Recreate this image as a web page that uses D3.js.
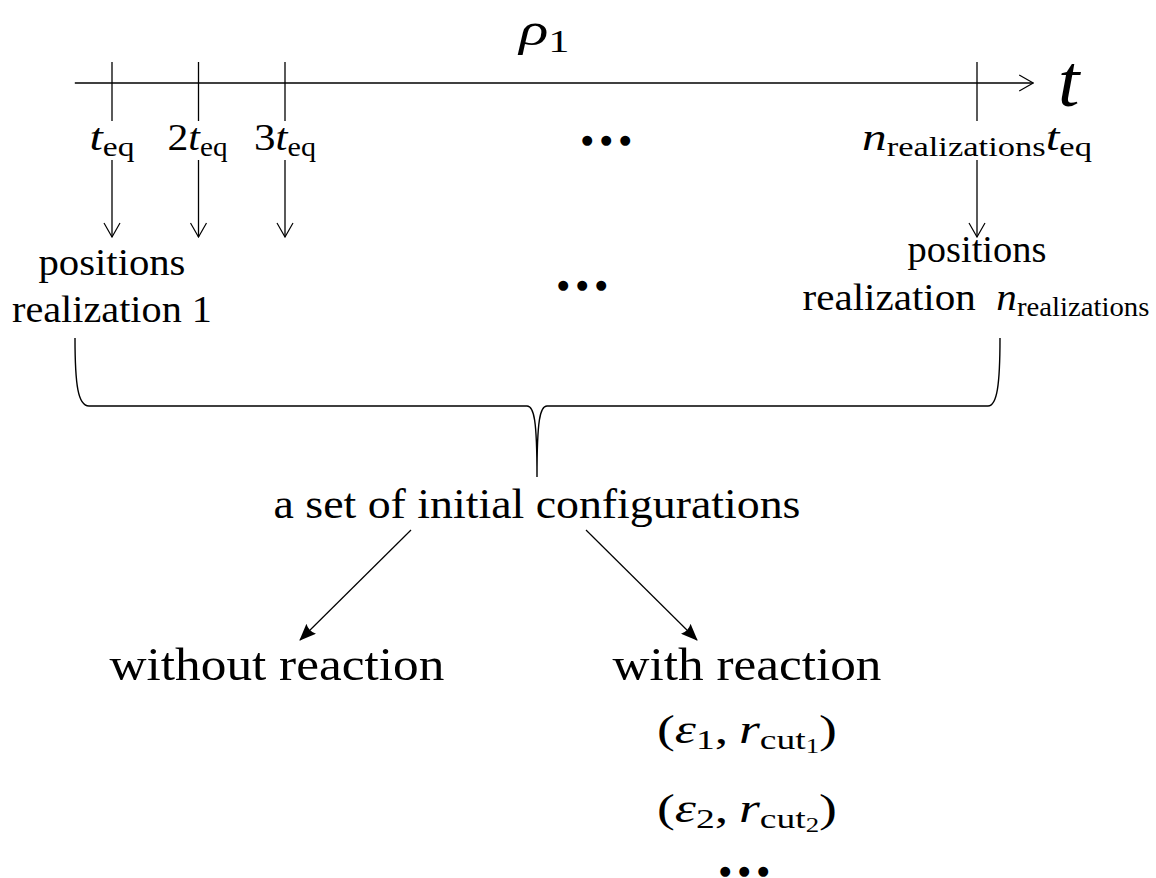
<!DOCTYPE html>
<html>
<head>
<meta charset="utf-8">
<script src="https://cdn.jsdelivr.net/npm/d3@7"></script>
<style>
  body { margin: 0; background: #fff; }
  text { white-space: pre; }
</style>
</head>
<body>
<svg></svg>
<script>
var screen = {width:1156, height:878}

// ticks on the time axis, in units of t_eq (last one stands for n_realizations)
var tickSteps = [1, 2, 3, 11]
var tickLabels = [
  [{s:"t",it:1},{s:"eq",lv:1}],
  [{s:"2"},{s:"t",it:1},{s:"eq",lv:1}],
  [{s:"3"},{s:"t",it:1},{s:"eq",lv:1}],
  [{s:"n",it:1},{s:"realizations",lv:1},{s:"t",it:1},{s:"eq",lv:1}]
]
// labels under the first and the last tick
var realizationSteps = [1, 11]
var realizationLabels = [
  [[{s:"positions"}], [{s:"realization 1"}]],
  [[{s:"positions"}], [{s:"realization  "},{s:"n",it:1},{s:"realizations",lv:1}]]
]
var setLabel = "a set of initial configurations"
var branchLabels = ["without reaction", "with reaction"]
var paramIndex = [1, 2]

var svg = d3.select("svg")
  .attr("width", screen.width)
  .attr("height", screen.height)

var xScale = d3.scaleLinear()
  .domain([1, 11])
  .range([112, 977])

var defs = svg.append("defs")
defs.append("marker")
  .attr("id","open")
  .attr("markerUnits","userSpaceOnUse")
  .attr("viewBox","0 0 16 18")
  .attr("refX",15).attr("refY",9)
  .attr("markerWidth",16).attr("markerHeight",18)
  .attr("orient","auto")
  .append("path")
  .attr("d","M1,1 L15,9 L1,17")
  .attr("fill","none").attr("stroke","#000").attr("stroke-width",1.2)
defs.append("marker")
  .attr("id","filled")
  .attr("markerUnits","userSpaceOnUse")
  .attr("viewBox","0 0 17 14")
  .attr("refX",16).attr("refY",7)
  .attr("markerWidth",17).attr("markerHeight",14)
  .attr("orient","auto")
  .append("path")
  .attr("d","M0,0 Q4,7 0,14 L17,7 Z")
  .attr("fill","#000")

var sizes = [1, 0.7, 0.5]
var shifts = [0, 0.15, 0.25]

// write a label made of pieces (italic / subscripted), centred at cx and stretched to width w
var place = function(segs, cx, base, w, F)
{
  var g = svg.append("g")
  var t = g.append("text")
    .attr("font-family","'Liberation Serif', 'DejaVu Serif', serif")
    .attr("font-size",F)
    .attr("fill","#000")
  segs.forEach(function(d)
  {
    var lv = d.lv || 0
    t.append("tspan")
      .text(d.s)
      .attr("font-size",F*sizes[lv])
      .attr("y",F*shifts[lv])
      .attr("font-style",d.it ? "italic" : null)
  })
  var bb = t.node().getBBox()
  var k = w ? w/bb.width : 1
  g.attr("transform","translate("+(cx - k*(bb.x+bb.width/2))+","+base+") scale("+k+",1)")
}

// time axis
var axisY = 83
svg.append("line")
  .attr("x1",xScale(0.57)).attr("x2",xScale(11.65))
  .attr("y1",axisY).attr("y2",axisY)
  .attr("stroke","#000").attr("stroke-width",1.3)
  .attr("marker-end","url(#open)")

svg.selectAll(".tick")
  .data(tickSteps)
  .enter()
  .append("line")
  .attr("class","tick")
  .attr("x1",function(d){return xScale(d)})
  .attr("x2",function(d){return xScale(d)})
  .attr("y1",62).attr("y2",121)
  .attr("stroke","#000").attr("stroke-width",1.3)

var tickWidths = [45, 60, 62, 230]
tickSteps.forEach(function(d,i)
{
  place(tickLabels[i], xScale(d)+(i==1?-1:0), 150, tickWidths[i], 38)
})

place([{s:"\u03c1",it:1},{s:"1",lv:1}], 543, 45, 53, 46)
place([{s:"t",it:1}], 1070, 106, 24, 74)

// three dots, centre of the middle one at (cx, cy)
var dots = function(cx, cy)
{
  var g = svg.append("g")
  var t = g.append("text")
    .attr("font-family","'DejaVu Sans', sans-serif")
    .attr("font-size",13)
    .text("\u25cf")
  var adv = t.node().getComputedTextLength()
  t.attr("letter-spacing", 19 - adv).text("\u25cf\u25cf\u25cf")
  var bb = t.node().getBBox()
  var one = t.node().getExtentOfChar(1)
  g.attr("transform","translate("+(cx - (one.x + one.width/2))+","+(cy - (bb.y + bb.height/2) + 1)+")")
}

// downward arrows from the ticks
svg.selectAll(".down")
  .data(tickSteps)
  .enter()
  .append("line")
  .attr("class","down")
  .attr("x1",function(d){return xScale(d)})
  .attr("x2",function(d){return xScale(d)})
  .attr("y1",160).attr("y2",237)
  .attr("stroke","#000").attr("stroke-width",1.3)
  .attr("marker-end","url(#open)")

var realBase = [[275, 322], [262, 310]]
var realWidth = [[147, 200], [139, 347]]
realizationSteps.forEach(function(d,i)
{
  realizationLabels[i].forEach(function(line,j)
  {
    place(line, xScale(d)+(i==1&&j==1?-1:0), realBase[i][j], realWidth[i][j], 38)
  })
})

dots(610, 138)
dots(586, 283)

// brace
var braceY = 406
var p = d3.path()
p.moveTo(75, 338)
p.bezierCurveTo(75, 385, 78, braceY, 89, braceY)
p.lineTo(527, braceY)
p.bezierCurveTo(534, braceY, 537, 420, 537, 477)
p.bezierCurveTo(537, 420, 540, braceY, 547, braceY)
p.lineTo(988, braceY)
p.bezierCurveTo(997, braceY, 1000, 385, 1000, 338)
svg.append("path")
  .attr("d",p.toString())
  .attr("fill","none").attr("stroke","#000").attr("stroke-width",1.4)

place([{s:setLabel}], 537, 518, 527, 42)

// branches
var branchX = [277, 747]
var arrowEnds = [[[411,530],[300,640]], [[586,530],[697,640]]]
svg.selectAll(".branch")
  .data(arrowEnds)
  .enter()
  .append("path")
  .attr("class","branch")
  .attr("d",function(d){return d3.line()(d)})
  .attr("stroke","#000").attr("stroke-width",1.2)
  .attr("marker-end","url(#filled)")

branchLabels.forEach(function(d,i)
{
  place([{s:d}], branchX[i], 680, i==0 ? 335 : 269, 46)
})

var paramBase = [743, 822]
paramIndex.forEach(function(k,i)
{
  place([{s:"("},{s:"\u03b5",it:1},{s:String(k),lv:1},{s:",\u2009"},{s:"r",it:1},{s:"cut",lv:1},{s:String(k),lv:2},{s:")"}],
        747, paramBase[i], 180, 40)
})

dots(748, 869)
</script>
</body>
</html>
